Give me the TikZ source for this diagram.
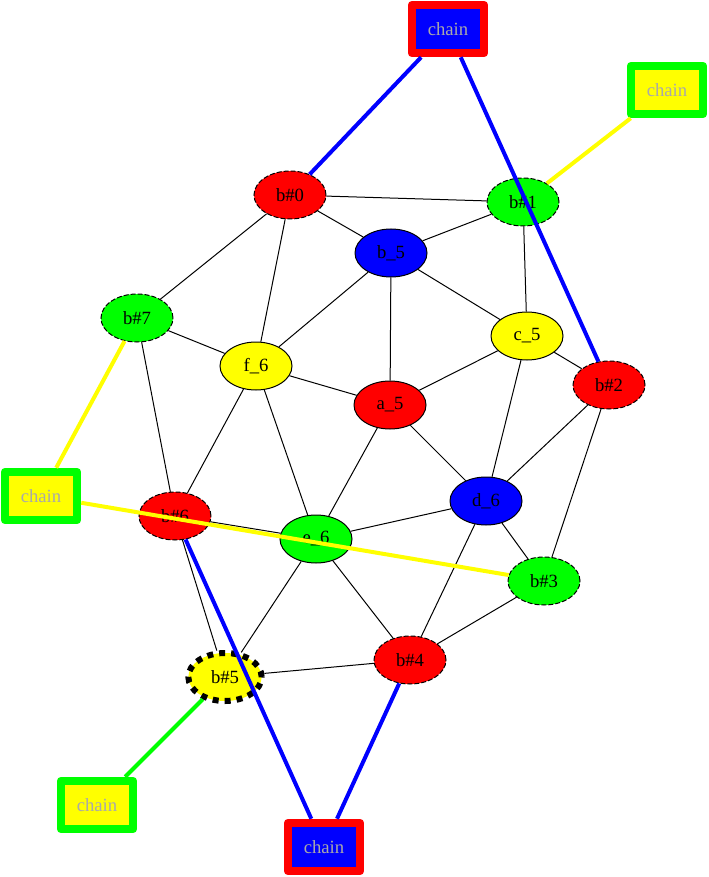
\documentclass[tikz,border=0pt]{standalone}
\usepackage{fontspec}
\setmainfont{Liberation Serif}
\usetikzlibrary{shapes.geometric}

\definecolor{gvred}{RGB}{255,0,0}
\definecolor{gvgreen}{RGB}{0,255,0}
\definecolor{gvblue}{RGB}{0,0,255}
\definecolor{gvyellow}{RGB}{255,255,0}
\definecolor{chaingray}{RGB}{169,169,169}

\tikzset{
  vertex/.style={ellipse, draw=black, line width=0.75pt, minimum width=54pt,
    minimum height=36pt, inner sep=0pt, font=\fontsize{14pt}{16pt}\selectfont},
  bvertex/.style={vertex, dash pattern=on 3.75pt off 1.5pt},
  chainbox/.style={rectangle, line width=6.4pt, line join=round, minimum width=54pt,
    minimum height=36pt, inner sep=0pt, text=chaingray, font=\fontsize{14pt}{16pt}\selectfont},
  link/.style={line width=0.75pt},
  chainlink/.style={line width=3pt},
}

\begin{document}
\begin{tikzpicture}[x=0.75pt,y=-0.75pt]
    % Picture frame in pixels
    \useasboundingbox (0,0) rectangle (708,877);

    % The b# nodes
    \node[bvertex, fill=gvred] (b0) at (290,195) {b\#0};
    \node[bvertex, fill=gvgreen] (b1) at (523,202) {b\#1};
    \node[bvertex, fill=gvred] (b2) at (609,385) {b\#2};
    \node[bvertex, fill=gvgreen] (b3) at (544,581) {b\#3};
    \node[bvertex, fill=gvred] (b4) at (410,660) {b\#4};
    \node[bvertex, fill=gvyellow, line width=4.5pt, dash pattern=on 4.5pt off 4.5pt,
      minimum width=55pt] (b5) at (225,677) {b\#5};
    \node[bvertex, fill=gvred] (b6) at (175,516) {b\#6};
    \node[bvertex, fill=gvgreen] (b7) at (137,318) {b\#7};

    % The inner nodes
    \node[vertex, fill=gvblue] (b5n) at (391,253) {b\_5};
    \node[vertex, fill=gvyellow] (c5) at (527,336) {c\_5};
    \node[vertex, fill=gvyellow] (f6) at (256,366) {f\_6};
    \node[vertex, fill=gvred] (a5) at (390,405) {a\_5};
    \node[vertex, fill=gvblue] (d6) at (486,501) {d\_6};
    \node[vertex, fill=gvgreen] (e6) at (316,539) {e\_6};

    % Chain boxes
    \node[chainbox, draw=gvred, fill=gvblue] (chaintop) at (448,29) {chain};
    \node[chainbox, draw=gvgreen, fill=gvyellow] (chainright) at (667,90) {chain};
    \node[chainbox, draw=gvgreen, fill=gvyellow] (chainleft) at (41,496) {chain};
    \node[chainbox, draw=gvgreen, fill=gvyellow] (chainlow) at (97,805) {chain};
    \node[chainbox, draw=gvred, fill=gvblue] (chainbottom) at (324,847) {chain};

    % Black edges
    \draw[link] (b0) -- (b1);
    \draw[link] (b0) -- (b5n);
    \draw[link] (b0) -- (b7);
    \draw[link] (b0) -- (f6);
    \draw[link] (b1) -- (b5n);
    \draw[link] (b1) -- (c5);
    \draw[link] (b5n) -- (f6);
    \draw[link] (b5n) -- (a5);
    \draw[link] (b5n) -- (c5);
    \draw[link] (b7) -- (f6);
    \draw[link] (b7) -- (b6);
    \draw[link] (c5) -- (a5);
    \draw[link] (c5) -- (b2);
    \draw[link] (c5) -- (d6);
    \draw[link] (f6) -- (a5);
    \draw[link] (f6) -- (b6);
    \draw[link] (f6) -- (e6);
    \draw[link] (a5) -- (e6);
    \draw[link] (a5) -- (d6);
    \draw[link] (b2) -- (d6);
    \draw[link] (b2) -- (b3);
    \draw[link] (d6) -- (e6);
    \draw[link] (d6) -- (b3);
    \draw[link] (d6) -- (b4);
    \draw[link] (b6) -- (e6);
    \draw[link] (b6) -- (b5);
    \draw[link] (e6) -- (b5);
    \draw[link] (e6) -- (b4);
    \draw[link] (b3) -- (b4);
    \draw[link] (b4) -- (b5);

    % Chain links
    \draw[chainlink, gvblue] (chaintop) -- (b0);
    \draw[chainlink, gvblue] (chaintop) -- (b2);
    \draw[chainlink, gvyellow] (chainright) -- (b1);
    \draw[chainlink, gvyellow] (chainleft) -- (b7);
    \draw[chainlink, gvyellow] (chainleft) -- (b3);
    \draw[chainlink, gvgreen] (chainlow) -- (b5);
    \draw[chainlink, gvblue] (chainbottom) -- (b6);
    \draw[chainlink, gvblue] (chainbottom) -- (b4);
\end{tikzpicture}
\end{document}
